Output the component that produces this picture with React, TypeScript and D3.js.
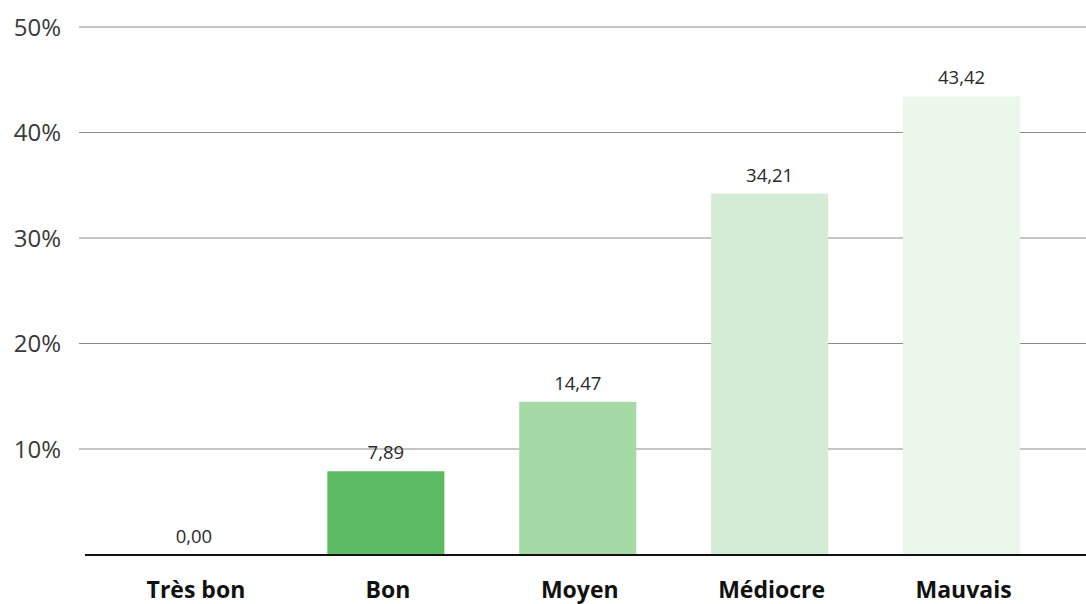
import React from "react";
import * as d3 from "d3";

const categories = ["Très bon", "Bon", "Moyen", "Médiocre", "Mauvais"];
const values = [0.0, 7.89, 14.47, 34.21, 43.42];
const valueLabels = ["0,00", "7,89", "14,47", "34,21", "43,42"];
const barColors = ["#5cb85c", "#5cbb63", "#a5d9a5", "#d4ecd5", "#ecf7ec"];
const yTicks = [10, 20, 30, 40, 50];

const W = 1086;
const H = 604;

export default function App() {
  const y = d3.scaleLinear().domain([0, 50]).range([554.5, 27]);
  const x = d3
    .scaleBand<string>()
    .domain(categories)
    .range([98, 1057.5])
    .paddingInner(0.39)
    .paddingOuter(0.195);
  const font = "'Open Sans', 'Noto Sans', sans-serif";

  return (
    <svg
      width={W}
      height={H}
      style={{ position: "absolute", left: 0, top: 0, background: "#fff" }}
      fontFamily={font}
    >
      {yTicks.map((t) => (
        <g key={t}>
          <line x1={79} x2={W} y1={y(t)} y2={y(t)} stroke="#8a8a8a" strokeWidth={1} />
          <text x={61} y={y(t)} dy="0.36em" textAnchor="end" fontSize={24} fill="#3a3a3a">
            {t}%
          </text>
        </g>
      ))}
      {categories.map((c, i) => (
        <g key={c}>
          {values[i] > 0 && (
            <rect
              x={x(c)}
              y={y(values[i])}
              width={x.bandwidth()}
              height={y(0) - y(values[i])}
              fill={barColors[i]}
            />
          )}
          <text
            x={(x(c) as number) + x.bandwidth() / 2}
            y={y(values[i]) - 12}
            textAnchor="middle"
            fontSize={18.5}
            fill="#2a2a2a"
          >
            {valueLabels[i]}
          </text>
          <text
            x={(x(c) as number) + x.bandwidth() / 2 + 2}
            y={598}
            textAnchor="middle"
            fontSize={23}
            fontWeight={700}
            fill="#111"
          >
            {c}
          </text>
        </g>
      ))}
      <line x1={85} x2={W} y1={y(0) + 0.5} y2={y(0) + 0.5} stroke="#111" strokeWidth={2} />
    </svg>
  );
}
